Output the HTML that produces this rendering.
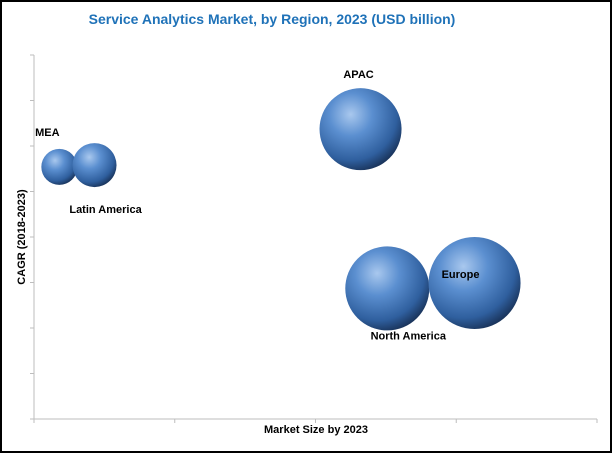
<!DOCTYPE html>
<html><head><meta charset="utf-8"><style>
html,body{margin:0;padding:0;background:#fff;}
svg{display:block;font-family:"Liberation Sans",sans-serif;}
</style></head><body>
<svg id="chart" width="612" height="453">
<defs>
<radialGradient id="ball" cx="0.38" cy="0.32" r="0.75">
<stop offset="0" stop-color="#a9c8ee"/>
<stop offset="0.35" stop-color="#5b8fd0"/>
<stop offset="0.75" stop-color="#2f5f9e"/>
<stop offset="1" stop-color="#14294a"/>
</radialGradient>
</defs>
<rect x="1" y="1" width="610" height="451" fill="#fff" stroke="#000" stroke-width="2"/>
<text x="272" y="24" text-anchor="middle" font-size="14" font-weight="bold" fill="#1f72b8">Service Analytics Market, by Region, 2023 (USD billion)</text>
<g id="axes"></g>
<g id="marks"></g>
<text x="316" y="433" text-anchor="middle" font-size="11" font-weight="bold" fill="#000">Market Size by 2023</text>
<text transform="translate(25,237) rotate(-90)" text-anchor="middle" font-size="11" font-weight="bold" fill="#000">CAGR (2018-2023)</text>
</svg>
<script>
const regions=["MEA","Latin America","APAC","North America","Europe"];
const marketSize=[0.18,0.43,2.32,2.51,3.13];
const cagr=[5.54,5.58,6.37,2.87,2.99];
const bubbleSize=[18,22,41,42,46];
const xTicks=[0,1,2,3,4];
const yTicks=[0,1,2,3,4,5,6,7,8];
const NS="http://www.w3.org/2000/svg";
const X0=34,X1=597,Y0=419,Y1=55;
function xs(v){return X0+(X1-X0)*v/4;}
function ys(v){return Y0-(Y0-Y1)*v/8;}
function mk(t,a,p){const e=document.createElementNS(NS,t);for(const k in a)e.setAttribute(k,a[k]);p.appendChild(e);return e;}
const axes=document.getElementById('axes');
let l=mk('line',{x1:X0,y1:Y0,x2:X1,y2:Y0,stroke:'#bdbdbd','stroke-width':1},axes);


l=mk('line',{x1:X0,y1:Y1,x2:X0,y2:Y0,stroke:'#bdbdbd','stroke-width':1},axes);


xTicks.forEach(v=>{const t=mk('line',{x1:xs(v),y1:Y0,x2:xs(v),y2:Y0+4,stroke:'#bdbdbd'},axes);

});
yTicks.forEach(v=>{const t=mk('line',{x1:X0-4,y1:ys(v),x2:X0,y2:ys(v),stroke:'#bdbdbd'},axes);

});
const marks=document.getElementById('marks');
const labelOff=[[-12,-35],[11,44],[-2,-55],[21,47],[-14,-9]];
regions.forEach((r,i)=>{
 const c=mk('circle',{cx:xs(marketSize[i]),cy:ys(cagr[i]),r:bubbleSize[i],fill:'url(#ball)'},marks);
 
 
});
regions.forEach((r,i)=>{
 const t=mk('text',{x:xs(marketSize[i])+labelOff[i][0],y:ys(cagr[i])+labelOff[i][1]+4,'text-anchor':'middle','font-size':11,'font-weight':'bold',fill:'#000'},marks);
 t.textContent=r;
 
 
});
</script>
</body></html>
